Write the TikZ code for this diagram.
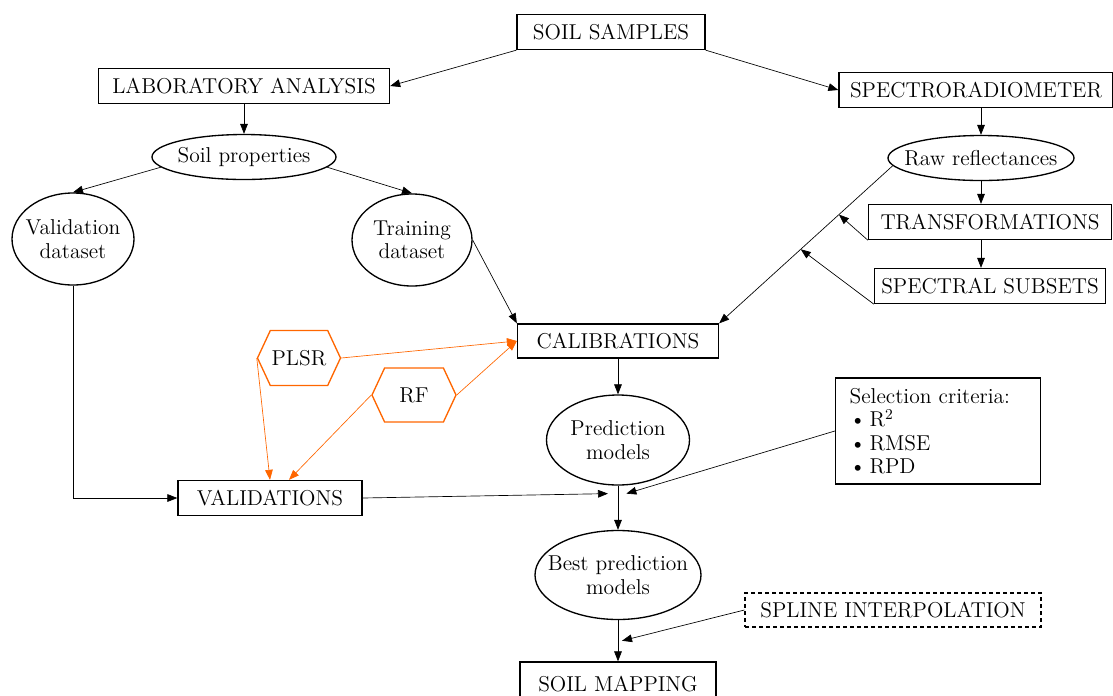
\documentclass[tikz,border=0pt]{standalone}
\usetikzlibrary{shapes,arrows.meta}
\definecolor{plotorange}{RGB}{255,102,0}
\tikzstyle{box}=[draw, line width=0.8pt, minimum height=21pt, inner sep=3pt]
\tikzstyle{ellip}=[ellipse,
                   draw,
                   line width=0.8pt,
                   inner xsep=-9pt,
                   inner ysep=0pt,
                   align=center]
\tikzstyle{algo}=[signal,
                  signal to=west and east,
                  signal pointer angle=130,
                  draw=plotorange,
                  line width=0.8pt,
                  inner sep=0pt]
\tikzstyle{link}=[-{Triangle[length=6pt,width=4.6pt]}, line width=0.4pt]
\tikzstyle{olink}=[link, draw=plotorange]

\begin{document}
\begin{tikzpicture}[x=0.6pt, y=-0.6pt, every node/.style={font=\fontsize{12.9}{14}\selectfont}]
    \useasboundingbox (0,0) rectangle (1113,695);
    \node[box, minimum width=112.8pt] (samples) at (611,32) {SOIL SAMPLES};
    \node[box, minimum width=174.6pt] (lab) at (244,86) {LABORATORY ANALYSIS};
    \node[box, minimum width=164.4pt] (spectro) at (976,90) {SPECTRORADIOMETER};
    \node[ellip, below of=lab, node distance=42.6pt, minimum width=110.4pt, minimum height=27pt] (sprop) {Soil properties};
    \node[ellip, minimum width=111.6pt, minimum height=27pt] (raw) at (981,158) {Raw reflectances};
    \node[box, minimum width=145.8pt] (trans) at (990,222) {TRANSFORMATIONS};
    \node[box, below of=trans, node distance=38.4pt, minimum width=138.6pt] (subsets) {SPECTRAL SUBSETS};
    \node[ellip, minimum width=73.2pt, minimum height=55.2pt] (vdata) at (73,239) {Validation\\dataset};
    \node[ellip, minimum width=72pt, minimum height=55.2pt] (tdata) at (412,240) {Training\\dataset};
    \node[box, minimum width=120.6pt, minimum height=20.4pt] (calib) at (618,341) {CALIBRATIONS};
    \node[ellip, below of=calib, node distance=59.4pt, minimum width=85.8pt, minimum height=54pt] (pred) {Prediction\\models};
    \node[ellip, below of=pred, node distance=81pt, minimum width=99.6pt, minimum height=53.4pt] (best) {Best prediction\\models};
    \node[box, below of=best, node distance=65.2pt, minimum width=117.6pt, minimum height=26pt] (mapping) {SOIL MAPPING};
    \node[algo, minimum width=49.8pt, minimum height=33pt] (plsr) at (299,358) {PLSR};
    \node[algo, minimum width=50.4pt, minimum height=32.4pt] (rf) at (414,395) {RF};
    \node[box, minimum width=110.4pt] (valid) at (270,498) {VALIDATIONS};
    \node[box, align=left, text width=106pt, inner xsep=8.5pt, minimum height=63.6pt] (crit) at (938,431)
        {Selection criteria:\\
         \makebox[12pt][l]{\textbullet}R\textsuperscript{2}\\
         \makebox[12pt][l]{\textbullet}RMSE\\
         \makebox[12pt][l]{\textbullet}RPD};
    \node[box, dash pattern=on 2.4pt off 1.8pt, minimum width=177.6pt, minimum height=20.4pt] (spline) at (893,610) {SPLINE INTERPOLATION};

    \path (raw.185) -- (calib.north east) coordinate[pos=0.31] (tipT) coordinate[pos=0.53] (tipS);

    \draw[link] (samples.south west) -- (lab.east);
    \draw[link] (samples.south east) -- (spectro.west);
    \draw[link] (lab) -- (sprop);
    \draw[link] (sprop.187) -- (vdata.north);
    \draw[link] (sprop.353) -- (tdata.north);
    \draw[link] (spectro.south -| raw.north) -- (raw.north);
    \draw[link] (raw.south) -- (raw.south |- trans.north);
    \draw[link] (raw.south |- trans.south) -- (raw.south |- subsets.north);
    \draw[link] (raw.185) -- (calib.north east);
    \draw[link] (trans.south west) -- (tipT);
    \draw[link] (subsets.south west) -- (tipS);
    \draw[link] (tdata.east) -- (calib.north west);
    \draw[link] (vdata.south) |- (valid.west);
    \draw[link] (calib) -- (pred);
    \draw[link] (pred) -- (best) coordinate[pos=0.18] (join);
    \draw[link] (best) -- (mapping) coordinate[pos=0.5] (tipM);
    \draw[link] (valid.east) -- ([xshift=-6pt]join);
    \draw[link] (crit.west) -- ([xshift=5pt]join);
    \draw[link] (spline.west) -- ([xshift=2.4pt]tipM);

    \draw[olink] (plsr.east) -- (calib.west);
    \draw[olink] (rf.east) -- (calib.west);
    \draw[olink] (plsr.west) -- (valid.north);
    \draw[olink] (rf.west) -- ([xshift=11.4pt]valid.north);
\end{tikzpicture}
\end{document}
